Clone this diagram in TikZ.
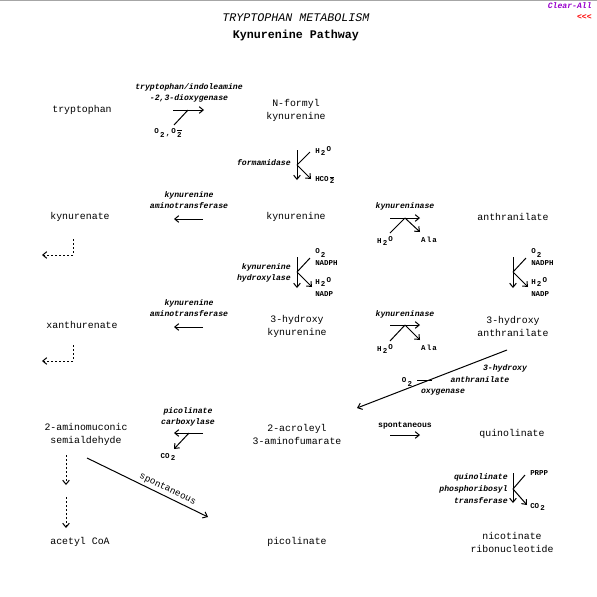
\documentclass[tikz,border=0pt]{standalone}
\usepackage{fontspec}
\setmonofont{Liberation Mono}
\usetikzlibrary{arrows.meta}
\newcommand\metf{\ttfamily\fontsize{7.4}{9.75}\selectfont}
\newcommand\enzf{\ttfamily\bfseries\itshape\fontsize{6.1}{8.25}\selectfont}
\newcommand\chmf{\ttfamily\bfseries\fontsize{5.6}{7}\selectfont}
\newcommand\dn[1]{\raisebox{-1.8pt}{#1}}
\newcommand\up[1]{\raisebox{1.2pt}{#1}}
\newcommand\mns[1]{$\overline{\hbox{#1}}$}
\begin{document}
\begin{tikzpicture}[x=0.75pt,y=-0.75pt,
  met/.style={font=\metf, align=center, inner sep=0pt},
  enz/.style={font=\enzf, align=center, inner sep=0pt},
  chm/.style={font=\chmf, inner sep=0pt},
  rx/.style={line width=0.75pt, -{Straight Barb[length=3pt,width=5pt]}},
  ln/.style={line width=0.75pt},
  dotrx/.style={line width=0.75pt, dash pattern=on 1.5pt off 1.5pt, -{Straight Barb[length=3pt,width=5pt]}}]
\useasboundingbox (0,0) rectangle (597,597);
\fill[gray!70] (0,0) rectangle (597,1.3);
% titles
\node[font=\ttfamily\itshape\fontsize{8.75}{10}\selectfont, inner sep=0] (title) at (296,18) {TRYPTOPHAN METABOLISM};
\node[font=\ttfamily\bfseries\fontsize{8.75}{10}\selectfont, inner sep=0] (sub) at (296,35) {Kynurenine Pathway};
\node[font=\ttfamily\bfseries\itshape\fontsize{6.1}{7}\selectfont, text={rgb,255:red,153;green,0;blue,204}, anchor=east, inner sep=0] (clear) at (592,6) {Clear-All};
\node[font=\ttfamily\bfseries\fontsize{6.1}{7}\selectfont, text=red, anchor=east, inner sep=0] (back) at (592,17) {<<<};
% metabolites
\node[met] (trp) at (82,110) {tryptophan};
\node[met] (nfk) at (296,110.5) {N-formyl\\kynurenine};
\node[met] (kyn) at (296,217) {kynurenine};
\node[met] (kyna) at (80,217) {kynurenate};
\node[met] (anth) at (513,217) {anthranilate};
\node[met] (hk) at (297,326.5) {3-hydroxy\\kynurenine};
\node[met] (xan) at (82,325) {xanthurenate};
\node[met] (haa) at (513,326.5) {3-hydroxy\\anthranilate};
\node[met] (ams) at (86,434) {2-aminomuconic\\semialdehyde};
\node[met] (aaf) at (297,434) {2-acroleyl\\3-aminofumarate};
\node[met] (quin) at (512,434) {quinolinate};
\node[met] (acoa) at (80,542) {acetyl CoA};
\node[met] (pic) at (297,542) {picolinate};
\node[met] (nrn) at (512,542) {nicotinate\\ribonucleotide};
% 1 tryptophan dioxygenase
\node[enz] (e1) at (189,92.5) {tryptophan/indoleamine\\-2,3-dioxygenase};
\coordinate (a1s) at (173,110); \coordinate (a1e) at (204,110);
\coordinate (a1m) at (188,110); \coordinate (a1b) at (174,125);
\draw[rx] (a1s) -- (a1e);
\draw[ln] (a1b) -- (a1m);
\node[chm] (o2a) at (168,133) {\up{O}\,\dn{2}\,,\,\up{O}\,\dn{\mns{2}}};
% 2 formamidase
\node[enz, anchor=east] (e2) at (291,163) {formamidase};
\coordinate (a2s) at (297,150); \coordinate (a2e) at (297,180);
\coordinate (a2m) at (297,165); \coordinate (a2u) at (310,152); \coordinate (a2d) at (311,179);
\draw[rx] (a2s) -- (a2e);
\draw[ln] (a2m) -- (a2u);
\draw[rx] (a2m) -- (a2d);
\node[chm, anchor=west] (h2oa) at (315,151) {H\,\dn{2}\,\up{O}};
\node[chm, anchor=west] (hco2) at (315,180) {HCO\,\dn{\mns{2}}};
% 3 aminotransferase 1
\node[enz] (e3) at (189,200.5) {kynurenine\\aminotransferase};
\coordinate (a3s) at (203,219); \coordinate (a3e) at (174,219);
\draw[rx] (a3s) -- (a3e);
\coordinate (d1a) at (73,239); \coordinate (d1b) at (73,255); \coordinate (d1c) at (42,255);
\draw[dotrx] (d1a) -- (d1b) -- (d1c);
% 4 kynureninase 1
\node[enz] (e4) at (405,206) {kynureninase};
\coordinate (a4s) at (390,218); \coordinate (a4e) at (420,218);
\coordinate (a4m) at (405,218); \coordinate (a4b) at (390,233); \coordinate (a4d) at (420,232);
\draw[rx] (a4s) -- (a4e);
\draw[ln] (a4b) -- (a4m);
\draw[rx] (a4m) -- (a4d);
\node[chm] (h2ob) at (385,241) {H\,\dn{2}\,\up{O}};
\node[chm] (ala1) at (429,240) {A\,l\,a};
% 5 kynurenine hydroxylase
\node[enz, anchor=east, align=right] (e5) at (291,272.5) {kynurenine\\hydroxylase};
\coordinate (a5s) at (297,257); \coordinate (a5e) at (297,288);
\coordinate (a5m) at (297,272); \coordinate (a5u) at (310,258); \coordinate (a5d) at (312,287);
\draw[rx] (a5s) -- (a5e);
\draw[ln] (a5m) -- (a5u);
\draw[rx] (a5m) -- (a5d);
\node[chm, anchor=west] (o2b) at (315,253) {\up{O}\,\dn{2}};
\node[chm, anchor=west] (nadph1) at (315,263) {NADPH};
\node[chm, anchor=west] (h2oc) at (315,282) {H\,\dn{2}\,\up{O}};
\node[chm, anchor=west] (nadp1) at (315,294) {NADP};
% 6 anthranilate hydroxylation
\coordinate (a6s) at (513,257); \coordinate (a6e) at (513,288);
\coordinate (a6m) at (513,272); \coordinate (a6u) at (526,258); \coordinate (a6d) at (528,287);
\draw[rx] (a6s) -- (a6e);
\draw[ln] (a6m) -- (a6u);
\draw[rx] (a6m) -- (a6d);
\node[chm, anchor=west] (o2c) at (531,253) {\up{O}\,\dn{2}};
\node[chm, anchor=west] (nadph2) at (531,263) {NADPH};
\node[chm, anchor=west] (h2od) at (531,282) {H\,\dn{2}\,\up{O}};
\node[chm, anchor=west] (nadp2) at (531,294) {NADP};
% 7 aminotransferase 2
\node[enz] (e7) at (189,308.5) {kynurenine\\aminotransferase};
\coordinate (a7s) at (203,327); \coordinate (a7e) at (174,327);
\draw[rx] (a7s) -- (a7e);
\coordinate (d2a) at (73,345); \coordinate (d2b) at (73,361); \coordinate (d2c) at (42,361);
\draw[dotrx] (d2a) -- (d2b) -- (d2c);
% 8 kynureninase 2
\node[enz] (e8) at (405,314) {kynureninase};
\coordinate (a8s) at (390,325); \coordinate (a8e) at (420,325);
\coordinate (a8m) at (405,325); \coordinate (a8b) at (390,341); \coordinate (a8d) at (420,340);
\draw[rx] (a8s) -- (a8e);
\draw[ln] (a8b) -- (a8m);
\draw[rx] (a8m) -- (a8d);
\node[chm] (h2oe) at (385,349) {H\,\dn{2}\,\up{O}};
\node[chm] (ala2) at (429,348) {A\,l\,a};
% 9 3-hydroxyanthranilate oxygenase
\coordinate (a9s) at (507,350); \coordinate (a9e) at (357,408);
\draw[rx] (a9s) -- (a9e);
\coordinate (a9o) at (417,380); \coordinate (a9j) at (432,380);
\draw[ln] (a9o) -- (a9j);
\node[chm] (o2d) at (407,382) {\up{O}\,\dn{2}};
\node[enz] (e9a) at (505,368) {3-hydroxy};
\node[enz] (e9b) at (480,380) {anthranilate};
\node[enz] (e9c) at (443,392) {oxygenase};
% 10 picolinate carboxylase
\node[enz] (e10) at (188,417) {picolinate\\carboxylase};
\coordinate (a10s) at (203,433); \coordinate (a10e) at (174,433);
\coordinate (a10m) at (189,433); \coordinate (a10d) at (174,449);
\draw[rx] (a10s) -- (a10e);
\draw[rx] (a10m) -- (a10d);
\node[chm] (co2a) at (168,457) {CO\,\dn{2}};
% dotted to acetyl CoA
\coordinate (d3a) at (66,455); \coordinate (d3b) at (66,485);
\coordinate (d4a) at (66,497); \coordinate (d4b) at (66,528);
\draw[dotrx] (d3a) -- (d3b);
\draw[dotrx] (d4a) -- (d4b);
% spontaneous diagonal
\coordinate (s1s) at (87,458); \coordinate (s1e) at (208,517);
\draw[rx] (s1s) -- node[sloped, above, pos=0.64, font=\ttfamily\fontsize{7}{8}\selectfont, inner sep=2pt] (sp1) {spontaneous} (s1e);
% spontaneous right
\node[chm, font=\ttfamily\bfseries\fontsize{6.1}{7}\selectfont] (sp2) at (405,426) {spontaneous};
\coordinate (s2s) at (390,435); \coordinate (s2e) at (420,435);
\draw[rx] (s2s) -- (s2e);
% QPRT
\node[enz, anchor=east, align=right, font=\ttfamily\bfseries\itshape\fontsize{6.1}{9}\selectfont] (e11) at (508,489) {quinolinate\\phosphoribosyl\\transferase};
\coordinate (a11s) at (513,473); \coordinate (a11e) at (513,503);
\coordinate (a11m) at (513,489); \coordinate (a11u) at (525,475); \coordinate (a11d) at (527,505);
\draw[rx] (a11s) -- (a11e);
\draw[ln] (a11m) -- (a11u);
\draw[rx] (a11m) -- (a11d);
\node[chm, anchor=west] (prpp) at (530,473) {PRPP};
\node[chm, anchor=west] (co2b) at (530,507) {CO\,\dn{2}};
\end{tikzpicture}
\end{document}
